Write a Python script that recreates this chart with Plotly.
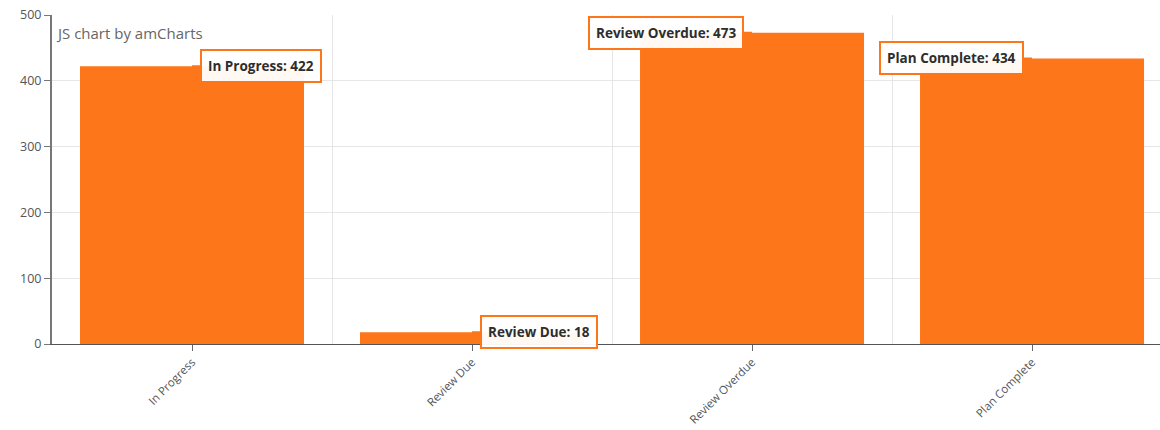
import plotly.graph_objects as go

categories = ["In Progress", "Review Due", "Review Overdue", "Plan Complete"]
values = [422, 18, 473, 434]
label_side = ["right", "right", "left", "left"]

BAR = "#fd761a"
FONT = "Open Sans"

x = list(range(len(categories)))
fig = go.Figure()
fig.add_trace(go.Bar(x=x, y=values, width=0.8, marker=dict(color=BAR, line=dict(width=0)),
                     hoverinfo="skip"))

for i, (c, v, s) in enumerate(zip(categories, values, label_side)):
    fig.add_annotation(
        x=i, y=v, xref="x", yref="y",
        text=f"<b>{c}: {v}</b>",
        showarrow=True, arrowhead=0, arrowwidth=2, arrowcolor=BAR,
        ax=8 if s == "right" else -8, ay=0,
        xanchor="left" if s == "right" else "right",
        font=dict(family=FONT, size=13.5, color="#2d2d2d"),
        bgcolor="rgba(255,255,255,0.95)", bordercolor=BAR, borderwidth=2, borderpad=6,
    )

fig.add_annotation(
    x=0, y=1, xref="paper", yref="paper", xanchor="left", yanchor="top",
    xshift=2, yshift=-6, showarrow=False,
    text="JS chart by amCharts",
    font=dict(family=FONT, size=15, color="#666666"),
)

fig.update_layout(
    width=1160, height=430,
    margin=dict(l=52, r=0, t=15, b=86),
    plot_bgcolor="white", paper_bgcolor="white",
    showlegend=False, bargap=0.2,
    font=dict(family=FONT, size=12, color="#555555"),
    xaxis=dict(
        range=[-0.5, 3.457], automargin=False,
        tickmode="array", tickvals=x, ticktext=categories,
        tickangle=-45, ticks="outside", ticklen=6, tickcolor="#666666",
        showgrid=False, zeroline=False,
        showline=True, linecolor="#555555", linewidth=1,
        minor=dict(tickmode="array", tickvals=[i + 0.5 for i in range(len(categories) - 1)],
                   showgrid=True, gridcolor="#e6e6e6", gridwidth=1, ticklen=0),
        tickfont=dict(family=FONT, size=11.5, color="#555555"),
        fixedrange=True,
    ),
    yaxis=dict(
        range=[0, 500], automargin=False, tickmode="array", tickvals=[0, 100, 200, 300, 400, 500],
        ticks="outside", ticklen=6, tickcolor="#777777",
        showgrid=True, gridcolor="#e6e6e6", zeroline=False,
        showline=True, linecolor="#777777", linewidth=2,
        tickfont=dict(family=FONT, size=12.5, color="#555555"),
        fixedrange=True,
    ),
)

fig.write_html("out.html")
